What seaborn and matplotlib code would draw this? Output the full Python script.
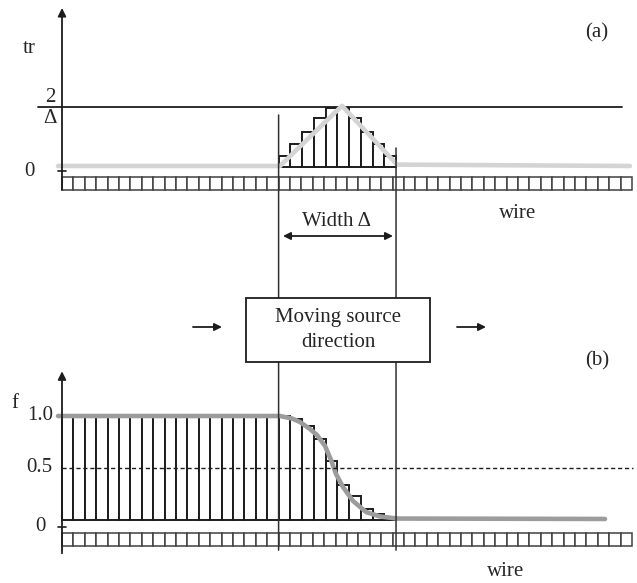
import numpy as np
import matplotlib
matplotlib.use("Agg")
import matplotlib.pyplot as plt
import seaborn as sns
from matplotlib.patches import Rectangle, ConnectionPatch

sns.set_theme(style="white")
plt.rcParams['font.family'] = ['Liberation Serif', 'DejaVu Serif']

# ---- wire geometry (cell units) ----
N_CELLS = 50
WIN_LO, WIN_HI = 19.0, 29.3          # edges of the source window
N_WIN = 10

# ---- (a) trigger response, in units of 2/Δ ----
tr_cells = [0.18, 0.38, 0.59, 0.82, 0.98, 0.98, 0.82, 0.59, 0.38, 0.18]
tr_profile_x = [-0.35, 19.12, 24.56, 29.39, 49.82]
tr_profile_y = [0.017, 0.017, 1.02, 0.04, 0.017]

# ---- (b) fraction f ----
f_left = [1.0, 1.0, 1.0, 1.0, 1.0, 1.0, 1.0, 1.0, 1.0, 1.0,
          1.0, 1.0, 1.0, 1.0, 1.0, 1.0, 1.0, 1.0, 1.0]
f_window = [1.0, 0.97, 0.90, 0.78, 0.57, 0.34, 0.23, 0.11, 0.06, 0.03]
f_profile_x = [-0.35, 19.12, 20.18, 20.88, 21.75, 22.37, 23.07, 23.60,
               24.04, 24.65, 25.53, 26.67, 27.89, 29.39, 47.63]
f_profile_y = [1.0, 1.0, 0.976, 0.942, 0.875, 0.817, 0.712, 0.577,
               0.442, 0.317, 0.183, 0.077, 0.034, 0.014, 0.01]

W, H = 637, 583
fig = plt.figure(figsize=(W / 100, H / 100), dpi=100)

X0, SX = 62.0, 11.4                     # pixel origin / pixel per cell
xlim = (-X0 / SX, (W - X0) / SX)

def panel(top_px, bot_px, zero_px, unit_px):
    ax = fig.add_axes([0, 1 - bot_px / H, 1, (bot_px - top_px) / H])
    ax.set_xlim(*xlim)
    ax.set_ylim((zero_px - bot_px) / unit_px, (zero_px - top_px) / unit_px)
    ax.axis('off')
    return ax

ax_a = panel(0, 250, 167, 60)     # tr: 0 at px 167, 2/Δ at px 107
ax_b = panel(360, 583, 520, 104)  # f: 0 at px 520, 1 at px 416

EDGE = '#1c1c1c'
CELL_EDGE = '#404040'
cells = np.arange(N_CELLS) + 0.5
win_w = (WIN_HI - WIN_LO) / N_WIN
win_x = WIN_LO + win_w * (np.arange(N_WIN) + 0.5)

# ---------------- panel (a) ----------------
ax_a.bar(cells, 0.2167, bottom=-0.383, width=1, color='white',
         edgecolor=CELL_EDGE, linewidth=1.1, zorder=2)
ax_a.bar(win_x, tr_cells, width=win_w, color='white',
         edgecolor=EDGE, linewidth=1.4, zorder=2)
sns.lineplot(x=tr_profile_x, y=tr_profile_y, ax=ax_a, color='#d4d4d4',
             linewidth=3.3, sort=False, estimator=None, zorder=3)
ax_a.plot([-2.1, 49.1], [1, 1], color=EDGE, lw=1.3, zorder=1)
ax_a.annotate('', xy=(0, 2.65), xytext=(0, -0.383),
              arrowprops=dict(arrowstyle='-|>', color=EDGE, lw=1.3,
                              mutation_scale=12, shrinkA=0, shrinkB=0))
ax_a.plot([-0.35, 0.35], [-0.067, -0.067], color=EDGE, lw=1.2)
FS = 15
ax_a.text(-2.9, -0.067, '0', ha='center', va='center', fontsize=FS)
ax_a.text(-1.0, 1.0, '2', ha='center', va='bottom', fontsize=FS)
ax_a.text(-1.05, 0.96, 'Δ', ha='center', va='top', fontsize=FS)
ax_a.text(-2.9, 1.98, 'tr', ha='center', va='center', fontsize=FS)

# ---------------- panel (b) ----------------
ax_b.bar(cells, 0.125, bottom=-0.25, width=1, color='white',
         edgecolor=CELL_EDGE, linewidth=1.1, zorder=2)
ax_b.bar(np.arange(len(f_left)) + 0.5, f_left, width=1, color='white',
         edgecolor=EDGE, linewidth=1.4, zorder=2)
win_colors = ['white'] * (N_WIN - 1) + ['#8a8a8a']
ax_b.bar(win_x, f_window, width=win_w, color=win_colors,
         edgecolor=EDGE, linewidth=1.4, zorder=2)
sns.lineplot(x=f_profile_x, y=f_profile_y, ax=ax_b, color='#9c9c9c',
             linewidth=3.3, sort=False, estimator=None, zorder=3)
ax_b.plot([0, 50.1], [0.5, 0.5], color=EDGE, lw=1.0, ls=(0, (3, 2)),
          zorder=4)
ax_b.annotate('', xy=(0, 1.43), xytext=(0, -0.32),
              arrowprops=dict(arrowstyle='-|>', color=EDGE, lw=1.3,
                              mutation_scale=12, shrinkA=0, shrinkB=0))
ax_b.plot([-0.35, 0.35], [-0.067, -0.067], color=EDGE, lw=1.2)
ax_b.text(-0.75, 1.0, '1.0', ha='right', va='center', fontsize=FS)
ax_b.text(-0.85, 0.5, '0.5', ha='right', va='center', fontsize=FS)
ax_b.text(-1.9, -0.067, '0', ha='center', va='center', fontsize=FS)
ax_b.text(-4.1, 1.12, 'f', ha='center', va='center', fontsize=FS)

# window edges running through both panels
for x, y_top in [(WIN_LO, 0.867), (WIN_HI, 0.317)]:
    con = ConnectionPatch(xyA=(x, y_top), coordsA=ax_a.transData,
                          xyB=(x, -0.29), coordsB=ax_b.transData,
                          color='#303030', lw=1.1, zorder=1)
    fig.add_artist(con)

# ---------------- annotations ----------------
ov = fig.add_axes([0, 0, 1, 1], zorder=10)
ov.set_xlim(0, W)
ov.set_ylim(H, 0)
ov.axis('off')
ov.patch.set_alpha(0)

ov.text(597, 33, '(a)', ha='center', va='center', fontsize=FS)
ov.text(597, 361, '(b)', ha='center', va='center', fontsize=FS)
ov.text(518, 214, 'wire', ha='center', va='center', fontsize=FS)
ov.text(506, 571, 'wire', ha='center', va='center', fontsize=FS)
ov.text(337, 221, 'Width Δ', ha='center', va='center', fontsize=FS)
ov.annotate('', xy=(283, 236), xytext=(393, 236),
            arrowprops=dict(arrowstyle='<|-|>', color=EDGE, lw=1.3,
                            mutation_scale=11, shrinkA=0, shrinkB=0))

ov.add_patch(Rectangle((246, 298), 184, 64, facecolor='white',
                       edgecolor=EDGE, lw=1.3, zorder=5))
ov.text(338, 330, 'Moving source\ndirection', ha='center', va='center',
        fontsize=FS, linespacing=1.45, zorder=6)
for x0, x1 in [(193, 222), (457, 486)]:
    ov.annotate('', xy=(x1, 327), xytext=(x0, 327),
                arrowprops=dict(arrowstyle='-|>', color=EDGE, lw=1.3,
                                mutation_scale=11, shrinkA=0, shrinkB=0))

fig.savefig('out.png', dpi=100)
